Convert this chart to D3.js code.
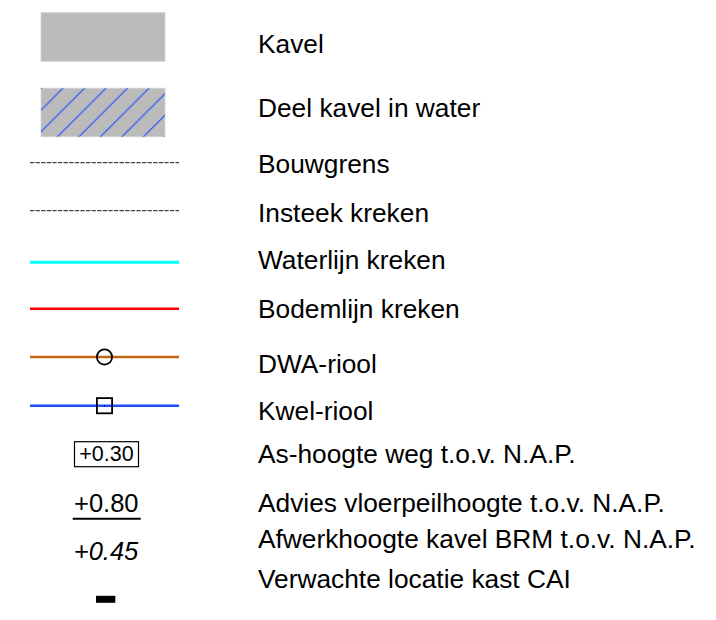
<!DOCTYPE html>
<html>
<head>
<meta charset="utf-8">
<script src="https://cdn.jsdelivr.net/npm/d3@7"></script>
<style>
  body { margin: 0; background: #fff; }
  text { font-family: "Liberation Sans", Arial, sans-serif; fill: #000; }
</style>
</head>
<body>
<div id="legend"></div>
<script>
const WIDTH = 716;
const HEIGHT = 620;

// legend entries, top to bottom
const labels = [
  'Kavel',
  'Deel kavel in water',
  'Bouwgrens',
  'Insteek kreken',
  'Waterlijn kreken',
  'Bodemlijn kreken',
  'DWA-riool',
  'Kwel-riool',
  'As-hoogte weg t.o.v. N.A.P.',
  'Advies vloerpeilhoogte t.o.v. N.A.P.',
  'Afwerkhoogte kavel BRM t.o.v. N.A.P.',
  'Verwachte locatie kast CAI'
];
const kinds = ['area', 'hatch', 'dash', 'dash', 'line', 'line', 'circle', 'square',
  'boxed', 'underlined', 'italic', 'block'];
const strokeColors = [null, null, '#444', '#444', '#00ffff', '#ff0000', '#c0660e', '#1f4fff',
  null, null, null, null];
const heightLabels = [null, null, null, null, null, null, null, null,
  '+0.30', '+0.80', '+0.45', null];

// layout: symbol centre per row, and how far the label baseline sits from it
const rowCentres = [37, 112.5, 162.7, 210.7, 262.3, 308.7, 357, 405.7, 454, 505, 552, 599.3];
const labelShift = [15.7, 4.2, 10, 11, 7, 9.6, 15.7, 14.3, 9.3, 7.3, -3.7, -11];

const rowIdx = d3.range(labels.length);
const y = d3.scaleOrdinal().domain(rowIdx).range(rowCentres);
const sx = d3.scaleLinear().domain([0, 1]).range([30, 179]);
const symX = sx(0.5);

const svg = d3.select('#legend').append('svg')
  .attr('width', WIDTH)
  .attr('height', HEIGHT);

const defs = svg.append('defs');
const hatch = defs.append('pattern')
  .attr('id', 'hatch')
  .attr('patternUnits', 'userSpaceOnUse')
  .attr('x', 0.7)
  .attr('width', 21.5)
  .attr('height', 21.5);
hatch.append('path')
  .attr('d', 'M-2,2 L2,-2 M0,21.5 L21.5,0 M19.5,23.5 L23.5,19.5')
  .attr('stroke', '#1f4fff')
  .attr('stroke-width', 1.2);

const rows = svg.selectAll('g.row')
  .data(rowIdx)
  .join('g')
  .attr('class', 'row');

rows.append('text')
  .attr('x', 258)
  .attr('y', i => y(i) + labelShift[i])
  .attr('font-size', 26.3)
  .text(i => labels[i]);

rows.each(function(i) {
  const g = d3.select(this);
  const k = kinds[i];
  const cy = y(i);

  if (k === 'area' || k === 'hatch') {
    g.append('rect')
      .attr('x', 41).attr('y', cy - 24.3)
      .attr('width', 124).attr('height', 48.6)
      .attr('fill', '#bbbbbb')
      .attr('stroke', '#d4d4d4').attr('stroke-width', 0.8);
    if (k === 'hatch') {
      g.append('rect')
        .attr('x', 41).attr('y', cy - 24.3)
        .attr('width', 124).attr('height', 48.6)
        .attr('fill', 'url(#hatch)');
    }
  }

  if (['dash', 'line', 'circle', 'square'].includes(k)) {
    g.append('line')
      .attr('x1', sx(0)).attr('x2', sx(1))
      .attr('y1', cy).attr('y2', cy)
      .attr('stroke', strokeColors[i])
      .attr('stroke-width', k === 'dash' ? 1.3 : (i === 4 ? 3 : 2.4))
      .attr('stroke-dasharray', k === 'dash' ? '4.3,1.3' : null);
  }

  if (k === 'circle') {
    g.append('circle')
      .attr('cx', symX).attr('cy', cy).attr('r', 7.6)
      .attr('fill', 'none').attr('stroke', '#000').attr('stroke-width', 1.8);
  }

  if (k === 'square') {
    g.append('rect')
      .attr('x', symX - 7.6).attr('y', cy - 7.6)
      .attr('width', 15.2).attr('height', 15.2)
      .attr('fill', 'none').attr('stroke', '#000').attr('stroke-width', 1.8);
    g.append('circle')
      .attr('cx', symX).attr('cy', cy).attr('r', 0.8).attr('fill', '#000');
  }

  if (k === 'boxed') {
    g.append('rect')
      .attr('x', 74.5).attr('y', cy - 12.3)
      .attr('width', 64).attr('height', 25)
      .attr('fill', 'none').attr('stroke', '#000').attr('stroke-width', 1.2);
    g.append('text')
      .attr('x', 106.5).attr('y', cy + 7)
      .attr('text-anchor', 'middle')
      .attr('font-size', 21.5)
      .text(heightLabels[i]);
  }

  if (k === 'underlined') {
    g.append('text')
      .attr('x', 106.3).attr('y', cy + 6.7)
      .attr('text-anchor', 'middle')
      .attr('font-size', 25.5)
      .text(heightLabels[i]);
    g.append('line')
      .attr('x1', 72.7).attr('x2', 140.7)
      .attr('y1', cy + 13.7).attr('y2', cy + 13.7)
      .attr('stroke', '#000').attr('stroke-width', 2);
  }

  if (k === 'italic') {
    g.append('text')
      .attr('x', 106).attr('y', cy + 8)
      .attr('text-anchor', 'middle')
      .attr('font-size', 25.5)
      .attr('font-style', 'italic')
      .text(heightLabels[i]);
  }

  if (k === 'block') {
    g.append('rect')
      .attr('x', 96).attr('y', cy - 3.5)
      .attr('width', 19.3).attr('height', 7)
      .attr('fill', '#000');
  }
});
</script>
</body>
</html>
